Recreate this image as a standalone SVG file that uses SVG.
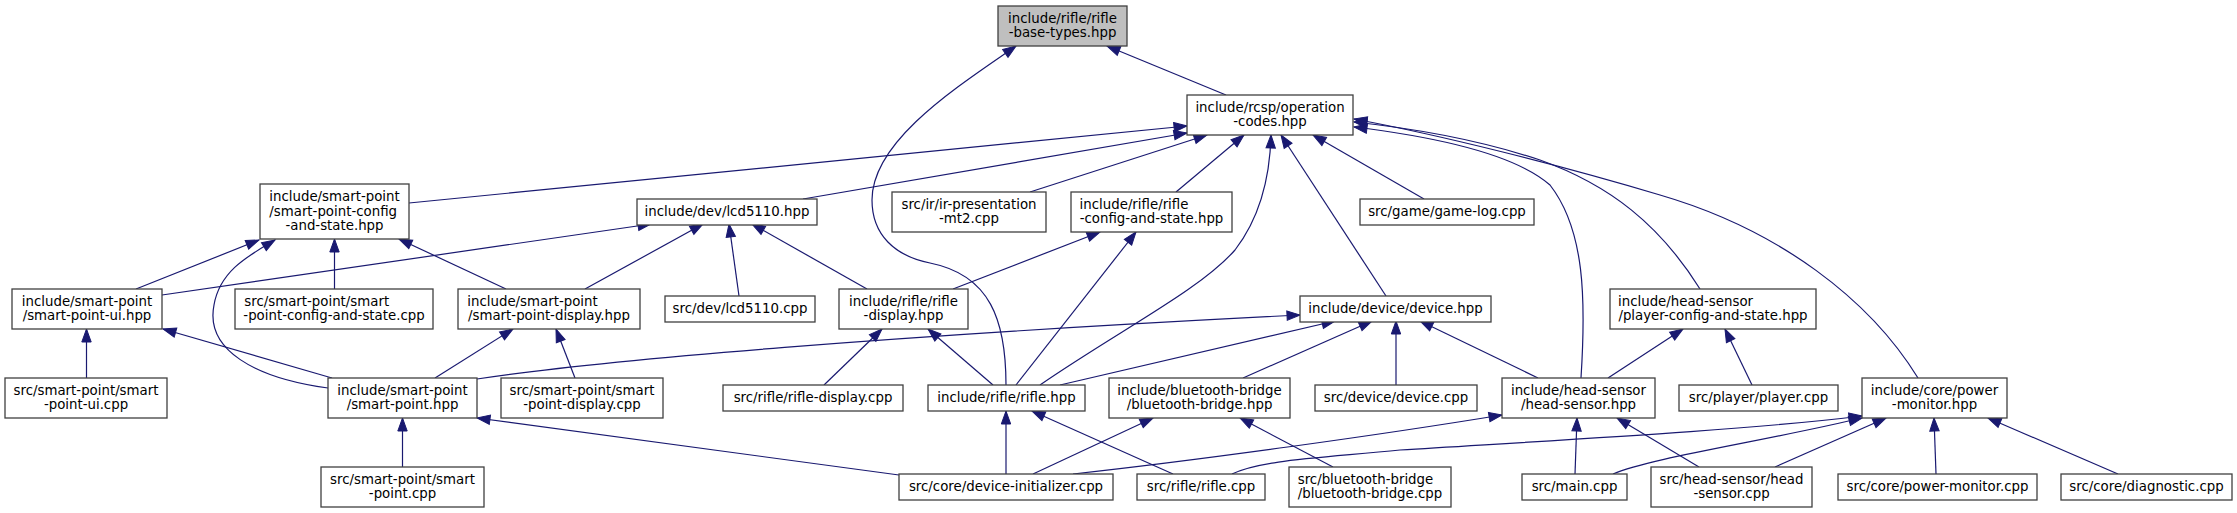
<svg xmlns="http://www.w3.org/2000/svg" width="2237" height="513" viewBox="0 0 2237 513">
<style>
.n rect{fill:#ffffff;stroke:#404040;stroke-width:1.3}
.n text{font-family:"DejaVu Sans","Liberation Sans",sans-serif;font-size:13.33px;fill:#000}
.m{text-anchor:middle}
.e path{fill:none;stroke:#191970;stroke-width:1.2;marker-end:url(#ah)}
</style>
<defs>
<marker id="ah" markerUnits="userSpaceOnUse" markerWidth="14" markerHeight="12" viewBox="0 0 14 12" refX="13" refY="6" orient="auto" overflow="visible">
<path d="M0,1.3 L13,6 L0,10.7 z" fill="#191970" stroke="#191970" stroke-width="1"/>
</marker>
</defs>
<rect width="2237" height="513" fill="#ffffff"/>
<g id="connectors" class="e">
<path d="M1226,95 L1107,46"/>
<path d="M1006,385 C1006,320 990,275 930,263 C895,256 872,235 872,200 C872,140 960,85 1016,46"/>
<path d="M409,203 L1187,126"/>
<path d="M803,199 L1187,133"/>
<path d="M1030,192 L1207,135"/>
<path d="M1176,192 L1244,135"/>
<path d="M1040,385 C1120,330 1200,290 1235,250 C1262,215 1270,175 1271,135"/>
<path d="M1386,296 L1281,135"/>
<path d="M1424,199 L1313,135"/>
<path d="M1581,378 C1586,300 1585,230 1550,185 C1510,150 1420,135 1354,127"/>
<path d="M1700,289 C1660,225 1610,185 1540,160 C1480,140 1410,128 1354,122"/>
<path d="M1918,378 C1870,300 1780,230 1660,195 C1560,165 1440,135 1354,119"/>
<path d="M136,289 L259,240"/>
<path d="M328,388 C255,378 205,350 214,305 C220,270 250,255 275,240"/>
<path d="M334.5,289 L334.5,239"/>
<path d="M506,289 L399,239"/>
<path d="M162,295 L651,224"/>
<path d="M585,289 L703,224"/>
<path d="M739,296 L729,224"/>
<path d="M867,289 L752,224"/>
<path d="M953,289 L1100,232"/>
<path d="M1016,385 L1136,232"/>
<path d="M86.5,378 L86.5,329"/>
<path d="M332,378 L163,329"/>
<path d="M435,378 L513,329"/>
<path d="M575,378 L556,329"/>
<path d="M824,385 L882,329"/>
<path d="M993,385 L928,329"/>
<path d="M477,379 C600,360 900,335 1300,315"/>
<path d="M1060,385 L1335,321"/>
<path d="M1243,378 L1372,321"/>
<path d="M1396,385 L1396,321"/>
<path d="M1538,378 L1420,321"/>
<path d="M1608,378 L1683,329"/>
<path d="M1752,385 L1725,329"/>
<path d="M402.5,467 L402.5,418"/>
<path d="M899,475 L477,418"/>
<path d="M1006,474 L1006,411"/>
<path d="M1173,474 L1032,411"/>
<path d="M1033,474 L1153,418"/>
<path d="M1333,467 L1240,418"/>
<path d="M1073,474 C1200,460 1380,435 1502,415"/>
<path d="M1575,474 L1577,418"/>
<path d="M1699,467 L1617,418"/>
<path d="M1232,474 C1260,460 1320,458 1400,450 C1560,440 1750,430 1862,416"/>
<path d="M1613,474 C1650,458 1760,442 1862,418"/>
<path d="M1775,467 L1886,418"/>
<path d="M1936,474 L1934,418"/>
<path d="M2118,474 L1988,418"/>
</g>
<g id="n-rifle-base-types" class="n"><rect x="998" y="6" width="129" height="40" style="fill:#bfbfbf"/><text class="m" x="1062.5" y="22.6">include/rifle/rifle</text><text class="m" x="1062.5" y="37.4">-base-types.hpp</text></g>
<g id="n-operation-codes" class="n"><rect x="1187" y="95" width="166" height="40"/><text class="m" x="1270" y="111.6">include/rcsp/operation</text><text class="m" x="1270" y="126.4">-codes.hpp</text></g>
<g id="n-smart-point-config-and-state-hpp" class="n"><rect x="260" y="184" width="149" height="55"/><text x="269.3" y="200.7">include/smart-point</text><text x="269.3" y="215.5">/smart-point-config</text><text class="m" x="334.5" y="230.3">-and-state.hpp</text></g>
<g id="n-lcd5110-hpp" class="n"><rect x="637" y="199" width="180" height="26"/><text class="m" x="727" y="216">include/dev/lcd5110.hpp</text></g>
<g id="n-ir-presentation" class="n"><rect x="892" y="192" width="154" height="40"/><text class="m" x="969" y="208.6">src/ir/ir-presentation</text><text class="m" x="969" y="223.4">-mt2.cpp</text></g>
<g id="n-rifle-config-and-state" class="n"><rect x="1071" y="192" width="161" height="40"/><text x="1079.6" y="208.6">include/rifle/rifle</text><text class="m" x="1151.5" y="223.4">-config-and-state.hpp</text></g>
<g id="n-game-log" class="n"><rect x="1360" y="199" width="174" height="26"/><text class="m" x="1447" y="216">src/game/game-log.cpp</text></g>
<g id="n-smart-point-ui-hpp" class="n"><rect x="12" y="289" width="150" height="40"/><text class="m" x="87" y="305.6">include/smart-point</text><text class="m" x="87" y="320.4">/smart-point-ui.hpp</text></g>
<g id="n-smart-point-config-and-state-cpp" class="n"><rect x="235" y="289" width="198" height="40"/><text x="244.3" y="305.6">src/smart-point/smart</text><text class="m" x="334" y="320.4">-point-config-and-state.cpp</text></g>
<g id="n-smart-point-display-hpp" class="n"><rect x="458" y="289" width="182" height="40"/><text x="467.3" y="305.6">include/smart-point</text><text class="m" x="549" y="320.4">/smart-point-display.hpp</text></g>
<g id="n-lcd5110-cpp" class="n"><rect x="665" y="296" width="150" height="26"/><text class="m" x="740" y="313">src/dev/lcd5110.cpp</text></g>
<g id="n-rifle-display-hpp" class="n"><rect x="839" y="289" width="129" height="40"/><text class="m" x="903.5" y="305.6">include/rifle/rifle</text><text class="m" x="903.5" y="320.4">-display.hpp</text></g>
<g id="n-device-hpp" class="n"><rect x="1300" y="296" width="191" height="26"/><text class="m" x="1395.5" y="313">include/device/device.hpp</text></g>
<g id="n-player-config-and-state" class="n"><rect x="1610" y="289" width="206" height="40"/><text x="1618" y="305.6">include/head-sensor</text><text class="m" x="1713" y="320.4">/player-config-and-state.hpp</text></g>
<g id="n-smart-point-ui-cpp" class="n"><rect x="5" y="378" width="162" height="40"/><text class="m" x="86" y="394.6">src/smart-point/smart</text><text class="m" x="86" y="409.4">-point-ui.cpp</text></g>
<g id="n-smart-point-hpp" class="n"><rect x="328" y="378" width="149" height="40"/><text class="m" x="402.5" y="394.6">include/smart-point</text><text class="m" x="402.5" y="409.4">/smart-point.hpp</text></g>
<g id="n-smart-point-display-cpp" class="n"><rect x="501" y="378" width="162" height="40"/><text class="m" x="582" y="394.6">src/smart-point/smart</text><text class="m" x="582" y="409.4">-point-display.cpp</text></g>
<g id="n-rifle-display-cpp" class="n"><rect x="723" y="385" width="180" height="26"/><text class="m" x="813" y="402">src/rifle/rifle-display.cpp</text></g>
<g id="n-rifle-hpp" class="n"><rect x="928" y="385" width="157" height="26"/><text class="m" x="1006.5" y="402">include/rifle/rifle.hpp</text></g>
<g id="n-bluetooth-bridge-hpp" class="n"><rect x="1109" y="378" width="181" height="40"/><text class="m" x="1199.5" y="394.6">include/bluetooth-bridge</text><text class="m" x="1199.5" y="409.4">/bluetooth-bridge.hpp</text></g>
<g id="n-device-cpp" class="n"><rect x="1315" y="385" width="162" height="26"/><text class="m" x="1396" y="402">src/device/device.cpp</text></g>
<g id="n-head-sensor-hpp" class="n"><rect x="1502" y="378" width="153" height="40"/><text class="m" x="1578.5" y="394.6">include/head-sensor</text><text class="m" x="1578.5" y="409.4">/head-sensor.hpp</text></g>
<g id="n-player-cpp" class="n"><rect x="1679" y="385" width="159" height="26"/><text class="m" x="1758.5" y="402">src/player/player.cpp</text></g>
<g id="n-power-monitor-hpp" class="n"><rect x="1862" y="378" width="145" height="40"/><text class="m" x="1934.5" y="394.6">include/core/power</text><text class="m" x="1934.5" y="409.4">-monitor.hpp</text></g>
<g id="n-smart-point-cpp" class="n"><rect x="321" y="467" width="163" height="40"/><text class="m" x="402.5" y="483.6">src/smart-point/smart</text><text class="m" x="402.5" y="498.4">-point.cpp</text></g>
<g id="n-device-initializer-cpp" class="n"><rect x="899" y="474" width="214" height="26"/><text class="m" x="1006" y="491">src/core/device-initializer.cpp</text></g>
<g id="n-rifle-cpp" class="n"><rect x="1137" y="474" width="128" height="26"/><text class="m" x="1201" y="491">src/rifle/rifle.cpp</text></g>
<g id="n-bluetooth-bridge-cpp" class="n"><rect x="1289" y="467" width="162" height="40"/><text x="1297.7" y="483.6">src/bluetooth-bridge</text><text class="m" x="1370" y="498.4">/bluetooth-bridge.cpp</text></g>
<g id="n-main-cpp" class="n"><rect x="1522" y="474" width="105" height="26"/><text class="m" x="1574.5" y="491">src/main.cpp</text></g>
<g id="n-head-sensor-cpp" class="n"><rect x="1651" y="467" width="161" height="40"/><text class="m" x="1731.5" y="483.6">src/head-sensor/head</text><text class="m" x="1731.5" y="498.4">-sensor.cpp</text></g>
<g id="n-power-monitor-cpp" class="n"><rect x="1838" y="474" width="199" height="26"/><text class="m" x="1937.5" y="491">src/core/power-monitor.cpp</text></g>
<g id="n-diagnostic-cpp" class="n"><rect x="2061" y="474" width="171" height="26"/><text class="m" x="2146.5" y="491">src/core/diagnostic.cpp</text></g>
</svg>
